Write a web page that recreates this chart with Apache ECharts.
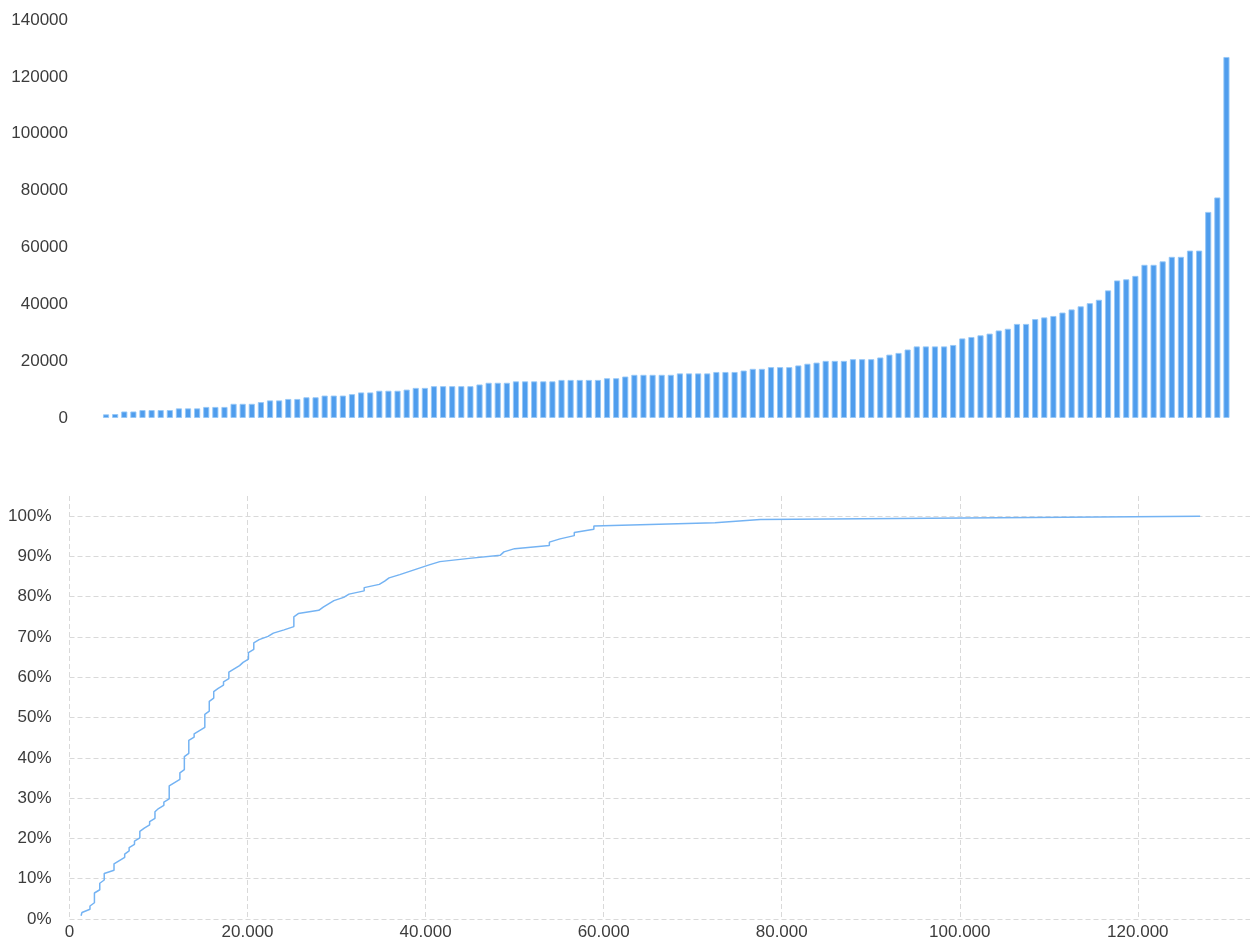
<!DOCTYPE html>
<html>
<head>
<meta charset="utf-8">
<script src="https://cdn.jsdelivr.net/npm/echarts@6/dist/echarts.min.js"></script>
<style>
html,body{margin:0;padding:0;background:#fff;}
#chart{width:1250px;height:939px;}
</style>
</head>
<body>
<div id="chart"></div>
<script>
// Sorted values (one bar per item)
const values = [
  1300, 1400, 2300, 2300, 2800, 2800, 2800, 2800, 3400, 3400,
  3400, 3900, 3900, 3900, 5000, 5000, 5000, 5600, 6200, 6200,
  6700, 6700, 7300, 7300, 7900, 7900, 7900, 8400, 9000, 9000,
  9600, 9600, 9600, 10000, 10600, 10600, 11200, 11200, 11200, 11200,
  11200, 11800, 12400, 12400, 12400, 12900, 12900, 12900, 12900, 12900,
  13400, 13400, 13400, 13400, 13400, 14000, 14000, 14600, 15200, 15200,
  15200, 15200, 15200, 15700, 15700, 15700, 15700, 16200, 16200, 16200,
  16700, 17300, 17300, 17900, 17900, 17900, 18500, 19100, 19500, 20100,
  20100, 20100, 20700, 20700, 20700, 21300, 22300, 22900, 24100, 25200,
  25200, 25200, 25200, 25700, 28000, 28500, 29100, 29700, 30800, 31400,
  33100, 33100, 34800, 35400, 35900, 37100, 38200, 39300, 40400, 41600,
  44900, 48400, 48800, 50000, 53900, 53900, 55100, 56700, 56700, 58900,
  58900, 72500, 77600, 127000
];
const topTicks = [0, 20000, 40000, 60000, 80000, 100000, 120000, 140000];
const bottomXTicks = [0, 20000, 40000, 60000, 80000, 100000, 120000];
const bottomYTicks = [0, 0.1, 0.2, 0.3, 0.4, 0.5, 0.6, 0.7, 0.8, 0.9, 1.0];

// cumulative share table built from the values
const cdf = values.map((v, i) => [v, (i + 1) / values.length]);

const textColor = '#3c3c3c';
const fontFamily = '"Liberation Sans", Arial, sans-serif';
const gridLine = { show: true, showMaxLine: false, lineStyle: { color: '#d9d9d9', width: 1, type: [5, 3] } };

const chart = echarts.init(document.getElementById('chart'), null, { renderer: 'canvas' });
chart.setOption({
  animation: false,
  backgroundColor: '#ffffff',
  textStyle: { fontFamily: fontFamily },
  grid: [
    { left: 101.5, right: 19, top: 20, bottom: 521, containLabel: false, outerBoundsMode: 'none' },
    { left: 69.5, right: 0, top: 496, bottom: 20, containLabel: false, outerBoundsMode: 'none' }
  ],
  xAxis: [
    {
      gridIndex: 0, type: 'category',
      axisLine: { show: false }, axisTick: { show: false }, axisLabel: { show: false },
      splitLine: { show: false }
    },
    {
      gridIndex: 1, type: 'value', min: 0, max: 132600, interval: 20000,
      axisLine: { show: false }, axisTick: { show: false },
      splitLine: gridLine,
      axisLabel: {
        showMaxLabel: false, margin: 5, color: textColor, fontSize: 17, fontFamily: fontFamily,
        formatter: v => bottomXTicks.indexOf(v) >= 0 ? (v === 0 ? '0' : (v / 1000) + '.000') : ''
      }
    }
  ],
  yAxis: [
    {
      gridIndex: 0, type: 'value', min: 0, max: 140000, interval: 20000,
      axisLine: { show: false }, axisTick: { show: false }, splitLine: { show: false },
      axisLabel: {
        margin: 33.5, color: textColor, fontSize: 17, fontFamily: fontFamily,
        formatter: v => topTicks.indexOf(v) >= 0 ? String(v) : ''
      }
    },
    {
      gridIndex: 1, type: 'value', min: 0, max: 1.05, interval: 0.1,
      axisLine: { show: false }, axisTick: { show: false },
      splitLine: gridLine,
      axisLabel: {
        showMaxLabel: false, margin: 18, color: textColor, fontSize: 17, fontFamily: fontFamily,
        formatter: v => {
          const hit = bottomYTicks.find(t => Math.abs(t - v) < 1e-9);
          return hit === undefined ? '' : Math.round(hit * 100) + '%';
        }
      }
    }
  ],
  series: [
    {
      type: 'bar', xAxisIndex: 0, yAxisIndex: 0,
      data: values, barCategoryGap: '32%',
      itemStyle: { color: '#4f9ded', borderColor: 'rgba(150,200,247,0.9)', borderWidth: 1 }
    },
    {
      type: 'line', xAxisIndex: 1, yAxisIndex: 1,
      data: cdf, showSymbol: false, symbol: 'none',
      lineStyle: { color: '#74b3f3', width: 1.5 }
    }
  ]
});
</script>
</body>
</html>
